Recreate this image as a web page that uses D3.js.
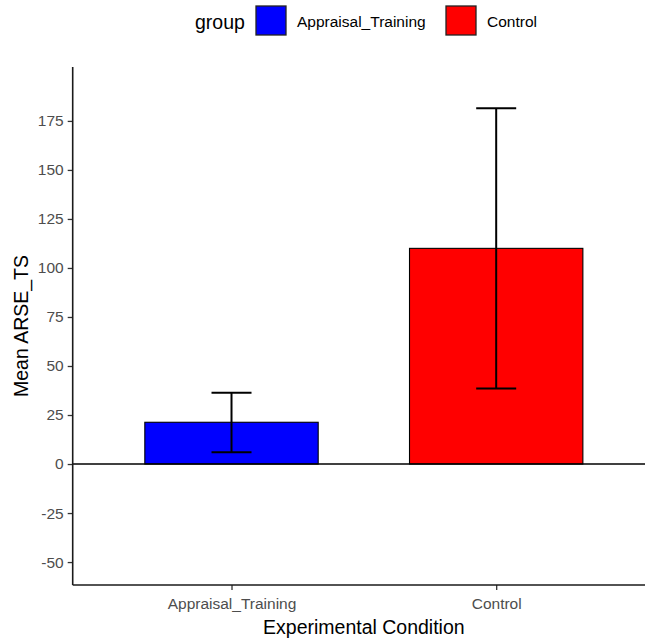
<!DOCTYPE html>
<html>
<head>
<meta charset="utf-8">
<script src="https://cdn.jsdelivr.net/npm/d3@7"></script>
<style>
  body { margin: 0; background: #fff; }
  svg { display: block; font-family: "Liberation Sans", Arial, sans-serif; }
</style>
</head>
<body>
<svg id="chart" width="645" height="641"></svg>
<script>
const groups = ['Appraisal_Training', 'Control'];
const means = [21.3, 110];
const errLow = [6, 38.5];
const errHigh = [36.4, 181.5];
const barColors = ['#0000ff', '#ff0000'];
const yTicks = [-50, -25, 0, 25, 50, 75, 100, 125, 150, 175];

const svg = d3.select('#chart');

const plot = { left: 72.7, right: 655, top: 67, bottom: 585 };

const xScale = d3.scalePoint()
    .domain(groups)
    .range([plot.left, plot.right])
    .padding(0.6);

const yScale = d3.scaleLinear()
    .domain([-61.7, 202.5])
    .range([plot.bottom, plot.top]);

const barWidth = xScale.step() * 0.655;
const capWidth = 40;

const data = groups.map((g, i) => ({
    group: g, mean: means[i], lo: errLow[i], hi: errHigh[i], color: barColors[i]
}));

// bars
svg.append('g').selectAll('rect').data(data)
    .enter().append('rect')
    .attr('x', d => xScale(d.group) - barWidth / 2)
    .attr('y', d => yScale(d.mean))
    .attr('width', barWidth)
    .attr('height', d => yScale(0) - yScale(d.mean))
    .attr('fill', d => d.color)
    .attr('stroke', '#000')
    .attr('stroke-width', 1.1);

// error bars
const eb = svg.append('g').selectAll('g').data(data).enter().append('g')
    .attr('stroke', '#000')
    .attr('stroke-width', 2);
eb.append('line')
    .attr('x1', d => xScale(d.group)).attr('x2', d => xScale(d.group))
    .attr('y1', d => yScale(d.lo)).attr('y2', d => yScale(d.hi));
eb.append('line')
    .attr('x1', d => xScale(d.group) - capWidth / 2).attr('x2', d => xScale(d.group) + capWidth / 2)
    .attr('y1', d => yScale(d.hi)).attr('y2', d => yScale(d.hi));
eb.append('line')
    .attr('x1', d => xScale(d.group) - capWidth / 2).attr('x2', d => xScale(d.group) + capWidth / 2)
    .attr('y1', d => yScale(d.lo)).attr('y2', d => yScale(d.lo));

// zero line
svg.append('line')
    .attr('x1', plot.left).attr('x2', plot.right)
    .attr('y1', yScale(0)).attr('y2', yScale(0))
    .attr('stroke', '#000')
    .attr('stroke-width', 1.5);

// axes
const yAxis = d3.axisLeft(yScale)
    .tickValues(yTicks)
    .tickFormat(d => String(d))
    .tickSize(5)
    .tickPadding(4);

const yAxisG = svg.append('g')
    .attr('transform', `translate(${plot.left},0)`)
    .call(yAxis);
yAxisG.select('.domain').remove();
yAxisG.selectAll('.tick line').attr('stroke', '#333').attr('stroke-width', 1.3);
yAxisG.selectAll('.tick text')
    .attr('fill', '#4d4d4d')
    .style('font-size', '15.5px');

const xAxis = d3.axisBottom(xScale)
    .tickSize(5)
    .tickPadding(7.5);

const xAxisG = svg.append('g')
    .attr('transform', `translate(0,${plot.bottom})`)
    .call(xAxis);
xAxisG.select('.domain').remove();
xAxisG.selectAll('.tick line').attr('stroke', '#333').attr('stroke-width', 1.3);
xAxisG.selectAll('.tick text')
    .attr('fill', '#4d4d4d')
    .style('font-size', '15.5px');

// axis lines
svg.append('line')
    .attr('x1', plot.left).attr('x2', plot.left)
    .attr('y1', plot.top).attr('y2', plot.bottom)
    .attr('stroke', '#1a1a1a').attr('stroke-width', 1.6);
svg.append('line')
    .attr('x1', plot.left).attr('x2', plot.right)
    .attr('y1', plot.bottom).attr('y2', plot.bottom)
    .attr('stroke', '#1a1a1a').attr('stroke-width', 1.6);

// axis titles
svg.append('text')
    .attr('x', (plot.left + plot.right) / 2)
    .attr('y', 634)
    .attr('text-anchor', 'middle')
    .attr('fill', '#000')
    .style('font-size', '19.5px')
    .text('Experimental Condition');

svg.append('text')
    .attr('transform', `translate(28,${(plot.top + plot.bottom) / 2}) rotate(-90)`)
    .attr('text-anchor', 'middle')
    .attr('fill', '#000')
    .style('font-size', '19.5px')
    .text('Mean ARSE_TS');

// legend
const legend = svg.append('g');
legend.append('text')
    .attr('x', 195).attr('y', 28.5)
    .attr('fill', '#000')
    .style('font-size', '19.5px')
    .text('group');

const keyX = [256, 446];
const items = legend.selectAll('g.item').data(data).enter().append('g')
    .attr('transform', (d, i) => `translate(${keyX[i]},6)`);
items.append('rect')
    .attr('width', 30).attr('height', 29)
    .attr('fill', d => d.color)
    .attr('stroke', '#222')
    .attr('stroke-width', 1.3);
items.append('text')
    .attr('x', 41).attr('y', 20.5)
    .attr('fill', '#000')
    .style('font-size', '15.5px')
    .text(d => d.group);
</script>
</body>
</html>
